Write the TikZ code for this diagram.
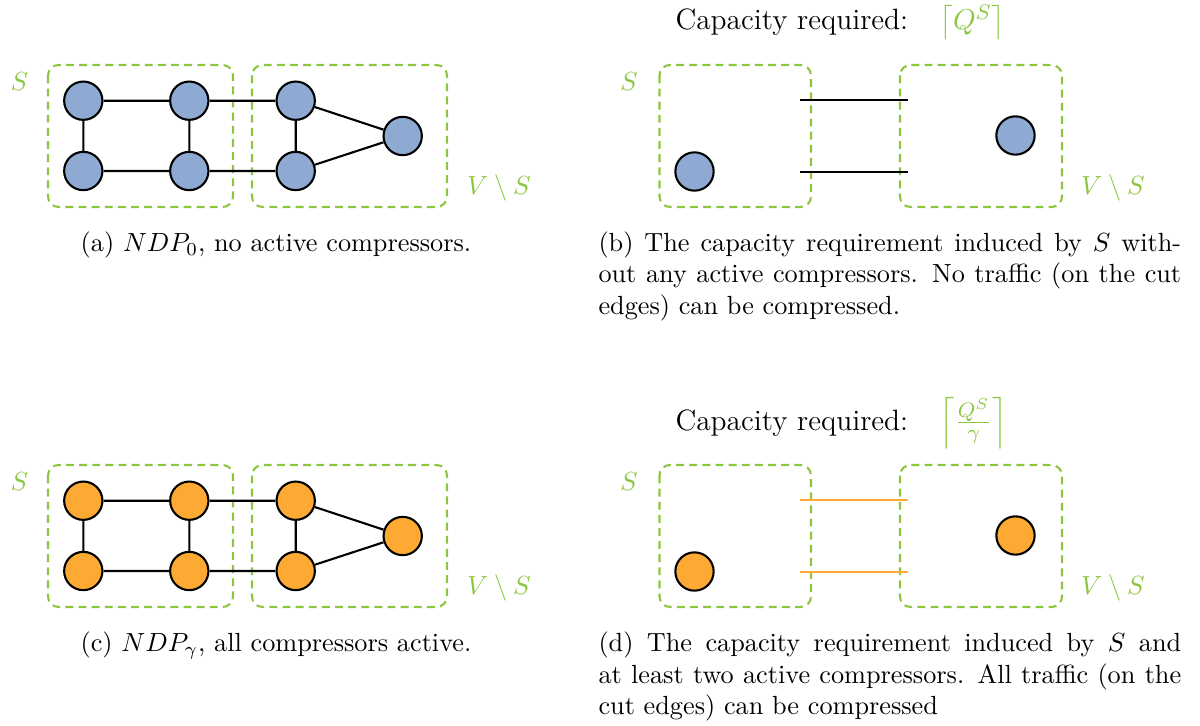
\documentclass[tikz,border=0pt]{standalone}
\usepackage{amsmath}
\definecolor{setgreen}{RGB}{140,198,63}
\definecolor{nodeblue}{RGB}{143,170,210}
\definecolor{nodeorange}{RGB}{252,170,51}

\tikzset{
  setbox/.style={draw=setgreen, line width=0.8pt, dash pattern=on 3pt off 2pt, rounded corners=4pt},
  vtx/.style={circle, draw=black, line width=0.8pt, minimum size=14.6pt, inner sep=0pt},
  bluevtx/.style={vtx, fill=nodeblue},
  orangevtx/.style={vtx, fill=nodeorange},
  link/.style={draw=black, line width=0.8pt},
  cutlink/.style={line width=0.8pt},
  setlabel/.style={text=setgreen, inner sep=0pt},
  capline/.style={inner sep=0pt, anchor=base},
  capblock/.style={inner sep=0pt, anchor=base west, text width=222pt, align=justify},
  reqtext/.style={inner sep=0pt, anchor=base west, font=\fontsize{11.2pt}{13.5pt}\selectfont},
}

% full graph on seven vertices, split into S and V\S
\newcommand\graphpanel[3]{%
  \begin{scope}[yshift=#3]
    \draw[setbox] (48,65) rectangle (233,207);
    \draw[setbox] (252,65) rectangle (447,207);
    \node[setlabel] (#1S) at (19.5,82) {$S$};
    \node[setlabel] (#1VS) at (499,188) {$V\setminus S$};
    \node[#2] (#1v1) at (83.3,100.7) {};
    \node[#2] (#1v2) at (189.3,100.7) {};
    \node[#2] (#1v3) at (295.7,100.7) {};
    \node[#2] (#1v4) at (83.3,171) {};
    \node[#2] (#1v5) at (189.3,171) {};
    \node[#2] (#1v6) at (295.7,171) {};
    \node[#2] (#1v7) at (402.7,136) {};
    \draw[link] (#1v1) -- (#1v2) (#1v2) -- (#1v3) (#1v1) -- (#1v4)
                (#1v2) -- (#1v5) (#1v4) -- (#1v5) (#1v5) -- (#1v6)
                (#1v3) -- (#1v6) (#1v3) -- (#1v7) (#1v6) -- (#1v7);
  \end{scope}}

% contracted cut: one vertex per side, two cut edges
\newcommand\cutpanel[4]{%
  \begin{scope}[yshift=#3]
    \draw[setbox] (659.5,65) rectangle (811,207);
    \draw[setbox] (900,65) rectangle (1062,207);
    \node[setlabel] (#1S) at (629,82) {$S$};
    \node[setlabel] (#1VS) at (1113,188) {$V\setminus S$};
    \node[#2] (#1u1) at (694.5,171.5) {};
    \node[#2] (#1u2) at (1015.5,135.5) {};
    \coordinate (#1t1) at (800,100);
    \coordinate (#1t2) at (908,100);
    \coordinate (#1b1) at (800,172);
    \coordinate (#1b2) at (908,172);
    \draw[cutlink, draw=#4] (#1t1) -- (#1t2);
    \draw[cutlink, draw=#4] (#1b1) -- (#1b2);
  \end{scope}}

\begin{document}
\begin{tikzpicture}[x=0.381pt, y=-0.381pt]
  \useasboundingbox (0,0) rectangle (1200,726);

  % top row: no compression
  \graphpanel{a}{bluevtx}{0pt}
  \cutpanel{b}{bluevtx}{0pt}{black}
  \node[reqtext] (bcap) at (675,30) {Capacity required:};
  \node[reqtext, text=setgreen] (bform) at (939,30) {$\left\lceil Q^S\right\rceil$};
  \node[capline] (acaption) at (276,251.5) {(a) $NDP_0$, no active compressors.};
  \node[capblock] (bcaption) at (598,251.5) {(b) The capacity requirement induced by $S$ with-\linebreak
    out any active compressors. No traffic (on the cut\linebreak
    edges) can be compressed.};

  % bottom row: all compressors active
  \graphpanel{c}{orangevtx}{-152.4pt}
  \cutpanel{d}{orangevtx}{-152.4pt}{nodeorange}
  \node[reqtext] (dcap) at (675,430) {Capacity required:};
  \node[reqtext, text=setgreen] (dform) at (939,430) {$\left\lceil \frac{Q^S}{\gamma}\right\rceil$};
  \node[capline] (ccaption) at (276,651.5) {(c) $NDP_\gamma$, all compressors active.};
  \node[capblock] (dcaption) at (598,651.5) {(d) The capacity requirement induced by $S$ and\linebreak
    at least two active compressors. All traffic (on the\linebreak
    cut edges) can be compressed};
\end{tikzpicture}
\end{document}
